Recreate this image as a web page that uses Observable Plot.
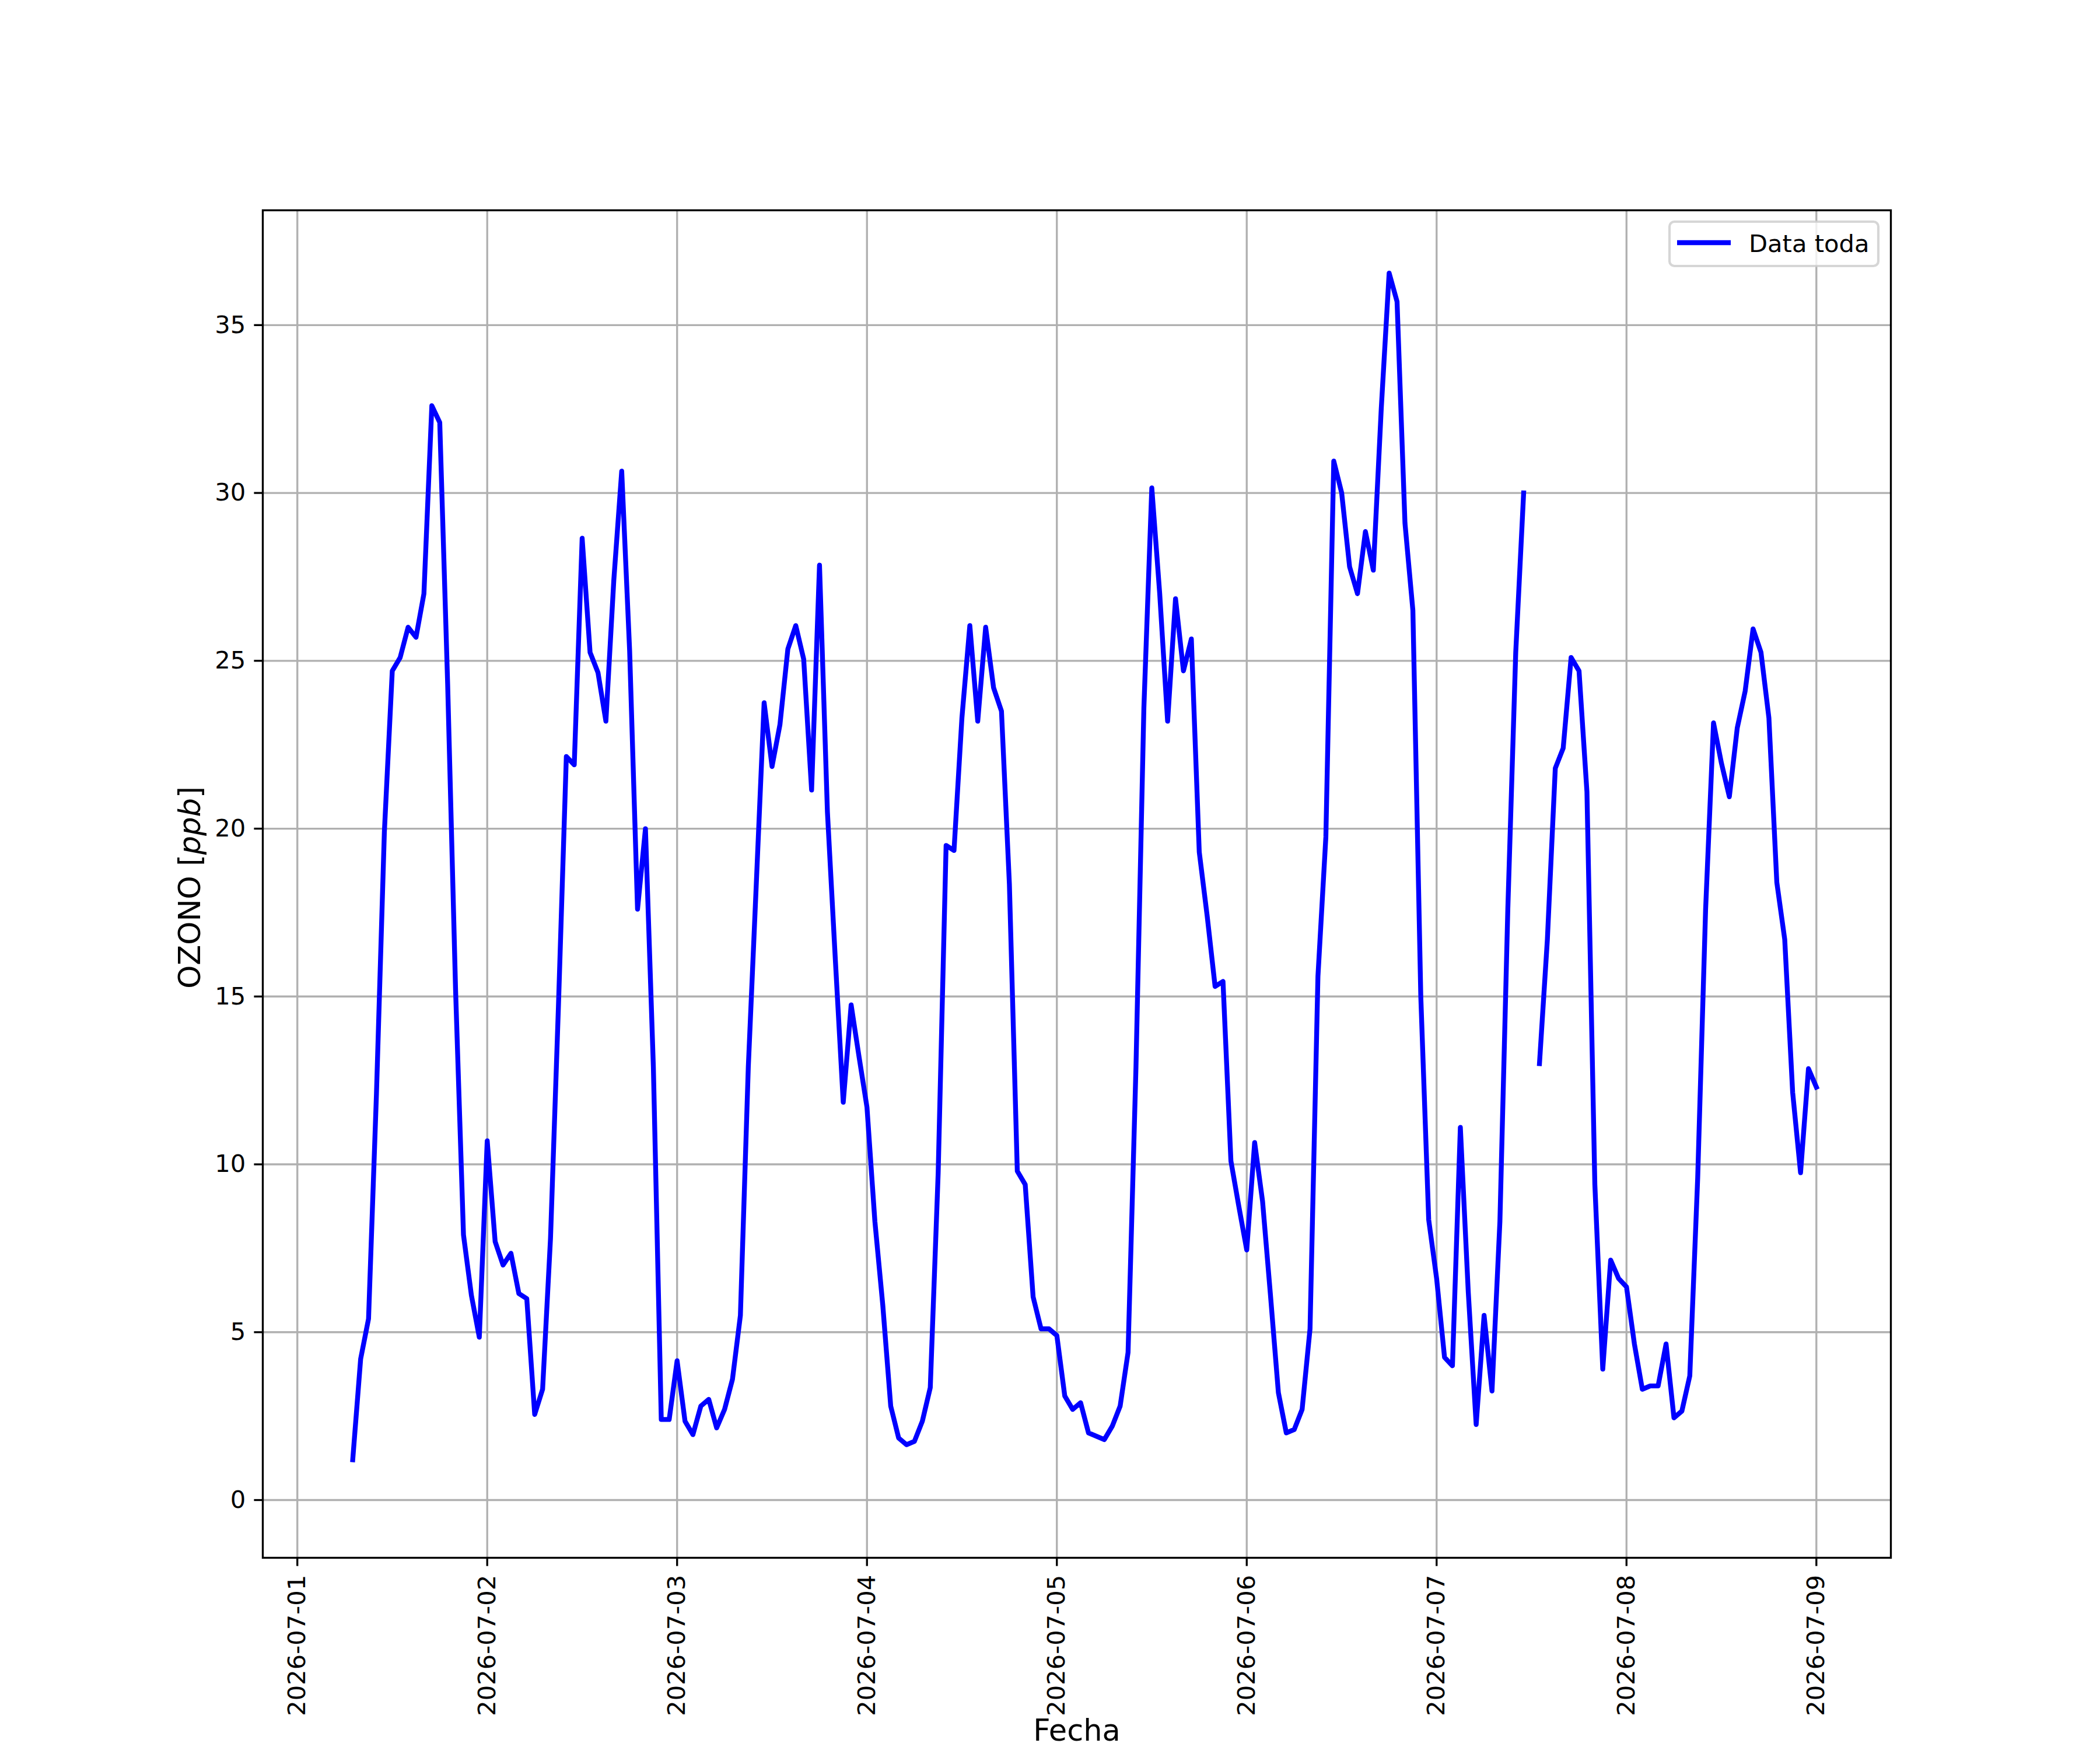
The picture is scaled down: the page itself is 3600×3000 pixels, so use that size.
<!DOCTYPE html>
<html>
<head>
<meta charset="utf-8">
<script src="https://cdn.jsdelivr.net/npm/d3@7"></script>
<script src="https://cdn.jsdelivr.net/npm/@observablehq/plot@0.6"></script>
<style>
  html, body { margin: 0; padding: 0; background: #ffffff; }
  #chart svg { display: block; }
</style>
</head>
<body>
<div id="chart"></div>
<script>
// ---- data (hourly OZONO values, ppb; index = hour of day, null = no data) ----
const dayLabels = ["2026-07-01", "2026-07-02", "2026-07-03", "2026-07-04", "2026-07-05",
                   "2026-07-06", "2026-07-07", "2026-07-08", "2026-07-09"];
const jul01 = [null, null, null, null, null, null, null, 1.2, 4.2, 5.4, 12.1, 19.9,
               24.7, 25.1, 26.0, 25.7, 27.0, 32.6, 32.1, 24.3, 15.2, 7.9, 6.1, 4.85];
const jul02 = [10.7, 7.7, 7.0, 7.35, 6.15, 6.0, 2.55, 3.3, 7.8, 14.7, 22.15, 21.9,
               28.65, 25.25, 24.65, 23.2, 27.4, 30.65, 25.3, 17.6, 20.0, 12.9, 2.4, 2.4];
const jul03 = [4.15, 2.35, 1.95, 2.8, 3.0, 2.15, 2.7, 3.6, 5.5, 12.9, 18.3, 23.75,
               21.85, 23.1, 25.35, 26.05, 25.05, 21.15, 27.85, 20.5, 16.1, 11.85, 14.75, 13.2];
const jul04 = [11.7, 8.3, 5.8, 2.8, 1.85, 1.65, 1.75, 2.35, 3.35, 9.75, 19.5, 19.35,
               23.3, 26.05, 23.2, 26.0, 24.2, 23.5, 18.35, 9.8, 9.4, 6.05, 5.1, 5.1];
const jul05 = [4.9, 3.1, 2.7, 2.9, 2.0, 1.9, 1.8, 2.2, 2.8, 4.4, 12.9, 23.6,
               30.15, 27.0, 23.2, 26.85, 24.7, 25.65, 19.3, 17.4, 15.3, 15.45, 10.1, 8.75];
const jul06 = [7.45, 10.65, 8.9, 6.1, 3.2, 2.0, 2.1, 2.7, 5.1, 15.6, 19.75, 30.95,
               30.0, 27.8, 27.0, 28.85, 27.7, 32.5, 36.55, 35.7, 29.1, 26.5, 15.0, 8.35];
const jul07 = [6.6, 4.25, 4.0, 11.1, 6.2, 2.25, 5.5, 3.25, 8.3, 17.6, 25.25, 30.0,
               null, 13.0, 16.7, 21.8, 22.4, 25.1, 24.7, 21.1, 9.4, 3.9, 7.15, 6.6];
const jul08 = [6.35, 4.65, 3.3, 3.4, 3.4, 4.65, 2.45, 2.65, 3.7, 9.6, 17.6, 23.15,
               21.95, 20.95, 23.0, 24.1, 25.95, 25.25, 23.3, 18.4, 16.7, 12.15, 9.75, 12.85];
const jul09 = [12.3];
const dailySeries = [jul01, jul02, jul03, jul04, jul05, jul06, jul07, jul08, jul09];
const yTicks = [0, 5, 10, 15, 20, 25, 30, 35];
const seriesLabel = "Data toda";
const xLabel = "Fecha";
const yLabel = "OZONO [ppb]";

// ---- build table ----
const rows = [];
dailySeries.forEach((vals, i) => {
  const base = new Date(dayLabels[i] + "T00:00:00Z");
  vals.forEach((v, h) => {
    rows.push({date: d3.utcHour.offset(base, h), value: v});
  });
});
const dayTicks = dayLabels.map(d => new Date(d + "T00:00:00Z"));

const FS = 41.67;     // tick / legend text (10pt at 300 dpi)
const LFS = 51;       // axis label text
const LW = 3.33;      // 0.8pt
const xDomain = [d3.utcMinute.offset(dayTicks[0], -262), d3.utcMinute.offset(dayTicks[8], 565)];

const chart = Plot.plot({
  width: 3600,
  height: 3000,
  marginLeft: 450,
  marginRight: 359,
  marginTop: 360,
  marginBottom: 330,
  style: {fontFamily: "'DejaVu Sans', sans-serif", fontSize: FS + "px", background: "#ffffff", color: "#000000", overflow: "visible"},
  x: {type: "utc", domain: xDomain},
  y: {domain: [-1.72, 38.42]},
  marks: [
    Plot.gridX({ticks: dayTicks, stroke: "#b0b0b0", strokeOpacity: 1, strokeWidth: LW}),
    Plot.gridY({ticks: yTicks, stroke: "#b0b0b0", strokeOpacity: 1, strokeWidth: LW}),
    Plot.lineY(rows, {x: "date", y: "value", stroke: "#0000ff", strokeWidth: 8.33,
                      strokeLinejoin: "round", strokeLinecap: "square"}),
    Plot.frame({stroke: "#000000", strokeWidth: LW}),
    Plot.axisX({ticks: dayTicks, tickFormat: d3.utcFormat("%Y-%m-%d"), tickRotate: -90,
                tickSize: 14.6, tickPadding: 14.6, strokeWidth: LW, fontSize: FS, label: null}),
    Plot.axisY({ticks: yTicks, tickFormat: d => String(d), tickSize: 14.6, tickPadding: 14.6,
                strokeWidth: LW, fontSize: FS, label: null}),
    Plot.text([xLabel], {frameAnchor: "bottom", text: d => d, dy: 313, lineAnchor: "bottom",
                         textAnchor: "middle", fontSize: LFS}),
    Plot.text([yLabel], {frameAnchor: "left", text: d => d, dx: -108, dy: 6, rotate: -90,
                         lineAnchor: "bottom", textAnchor: "middle", fontSize: LFS})
  ]
});

document.getElementById("chart").appendChild(chart);

// italic "ppb" in the y label (matplotlib mathtext)
const svgEl = chart.tagName.toLowerCase() === "svg" ? chart : chart.querySelector("svg");
svgEl.querySelectorAll("text").forEach(t => {
  if (t.textContent === yLabel) {
    const m = yLabel.match(/^(.*\[)(.*)(\].*)$/);
    while (t.firstChild) t.removeChild(t.firstChild);
    const ns = "http://www.w3.org/2000/svg";
    [[m[1], "normal"], [m[2], "italic"], [m[3], "normal"]].forEach(([s, st]) => {
      const ts = document.createElementNS(ns, "tspan");
      ts.textContent = s;
      ts.setAttribute("font-style", st);
      t.appendChild(ts);
    });
  }
});

// legend (upper right, matplotlib style)
const svg = d3.select(svgEl);
const lg = svg.append("g").attr("class", "legend");
lg.append("rect")
  .attr("x", 2862).attr("y", 380).attr("width", 358).attr("height", 76).attr("rx", 8.3)
  .attr("fill", "#ffffff").attr("fill-opacity", 0.8)
  .attr("stroke", "#cccccc").attr("stroke-opacity", 0.8).attr("stroke-width", 4.17);
lg.append("line")
  .attr("x1", 2875).attr("x2", 2967).attr("y1", 416).attr("y2", 416)
  .attr("stroke", "#0000ff").attr("stroke-width", 8.33).attr("stroke-linecap", "butt");
lg.append("text")
  .attr("x", 2998).attr("y", 432).attr("font-size", FS)
  .attr("text-anchor", "start")
  .attr("font-family", "'DejaVu Sans', sans-serif").attr("fill", "#000000")
  .text(seriesLabel);
</script>
</body>
</html>
